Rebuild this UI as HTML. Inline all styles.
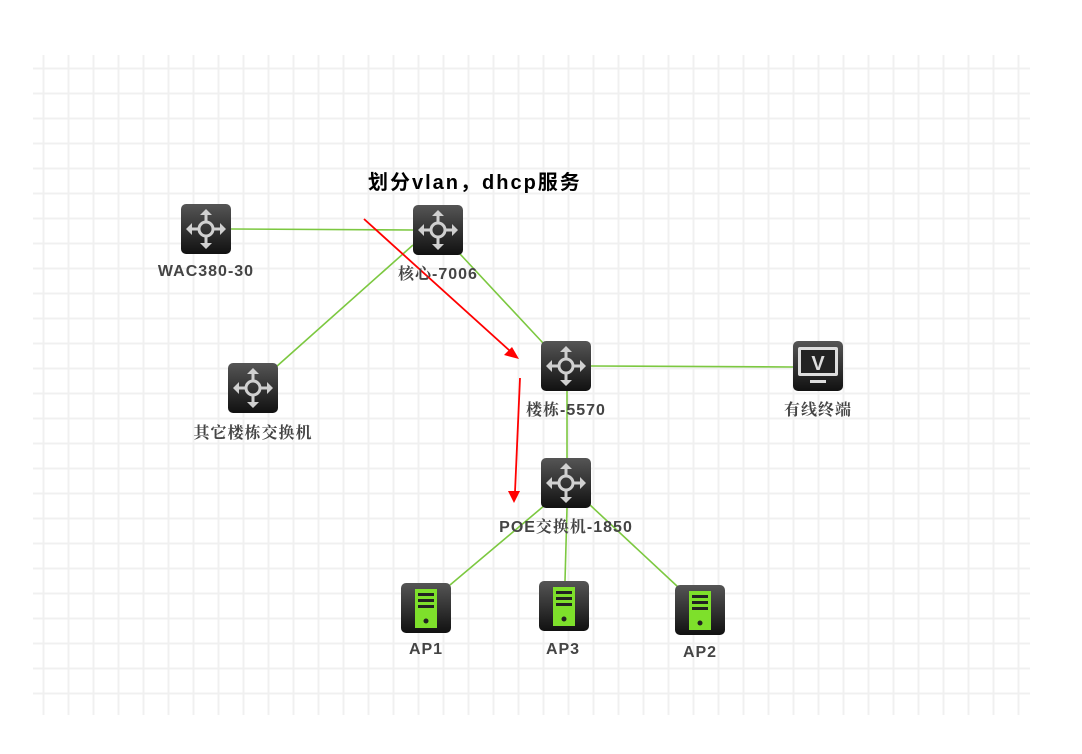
<!DOCTYPE html>
<html><head><meta charset="utf-8"><style>
html,body{margin:0;padding:0;background:#fff;}
svg text{font-family:"Liberation Sans","Noto Serif CJK SC",sans-serif;font-weight:bold;}
</style></head><body>
<svg width="1082" height="749" xmlns="http://www.w3.org/2000/svg">
<defs>
<pattern id="g" x="30.5" y="55.5" width="25" height="25" patternUnits="userSpaceOnUse">
<rect x="12" y="0" width="2" height="25" fill="#f0f0f0"/>
<rect x="0" y="12" width="25" height="2" fill="#f0f0f0"/>
</pattern>
<linearGradient id="dk" x1="0" y1="0" x2="0" y2="1"><stop offset="0" stop-color="#555"/><stop offset="1" stop-color="#111"/></linearGradient>
<g id="sw">
<rect x="0" y="0" width="50" height="50" rx="5" fill="url(#dk)"/>
<g fill="#d0d0d0" stroke="#d0d0d0">
<circle cx="25" cy="25" r="7" fill="none" stroke-width="3"/>
<path d="M25 18V9M25 32V41M18 25H9M32 25H41" stroke-width="3" fill="none"/>
<path d="M25 5l-6 6h12zM25 45l-6-6h12zM5 25l6-6v12zM45 25l-6-6v12z" stroke="none"/>
</g>
</g>
<g id="ap">
<rect x="0" y="0" width="50" height="50" rx="5" fill="url(#dk)"/>
<rect x="14" y="6" width="22" height="39" fill="#7ee02b"/>
<rect x="17" y="10" width="16" height="3" fill="#222"/>
<rect x="17" y="16" width="16" height="3" fill="#222"/>
<rect x="17" y="22" width="16" height="3" fill="#222"/>
<circle cx="25" cy="38" r="2.5" fill="#222"/>
</g>
</defs>
<rect x="33" y="55" width="997" height="660" fill="url(#g)"/>
<g stroke="#7cc840" stroke-width="1.6" fill="none">
<line x1="231" y1="229" x2="413" y2="230"/>
<line x1="413" y1="245" x2="276" y2="367"/>
<line x1="460" y1="254" x2="543" y2="343"/>
<line x1="591" y1="366" x2="793" y2="367"/>
<line x1="567" y1="391" x2="567" y2="458"/>
<line x1="545" y1="505" x2="450" y2="585"/>
<line x1="567" y1="508" x2="565" y2="581"/>
<line x1="590" y1="505" x2="678" y2="587"/>
</g>
<g stroke="#f00" stroke-width="1.8" fill="#f00">
<line x1="364" y1="219" x2="510" y2="351"/>
<path d="M519 359l-15-4 8-8z" stroke="none"/>
<line x1="520" y1="378" x2="515" y2="492"/>
<path d="M514 503l-6-12h12z" stroke="none"/>
</g>
<use href="#sw" x="181" y="204"/>
<use href="#sw" x="413" y="205"/>
<use href="#sw" x="541" y="341"/>
<use href="#sw" x="228" y="363"/>
<use href="#sw" x="541" y="458"/>
<g>
<rect x="793" y="341" width="50" height="50" rx="5" fill="url(#dk)"/>
<rect x="798" y="347" width="40" height="29" rx="2" fill="#ddd"/>
<rect x="801" y="350" width="34" height="23" fill="#222"/>
<text x="818" y="370" text-anchor="middle" fill="#ddd" font-size="20">V</text>
<rect x="810" y="380" width="16" height="3" fill="#ddd"/>
</g>
<use href="#ap" x="401" y="583"/>
<use href="#ap" x="539" y="581"/>
<use href="#ap" x="675" y="585"/>
<g fill="#444" font-size="16" text-anchor="middle" letter-spacing="1">
<text x="206" y="276">WAC380-30</text>
<text x="438" y="279">核心-7006</text>
<text x="253" y="438">其它楼栋交换机</text>
<text x="566" y="415">楼栋-5570</text>
<text x="818" y="415">有线终端</text>
<text x="566" y="532">POE交换机-1850</text>
<text x="426" y="654">AP1</text>
<text x="563" y="654">AP3</text>
<text x="700" y="657">AP2</text>
</g>
<text x="368" y="189" font-size="20" fill="#000" letter-spacing="2" style="font-family:'Liberation Sans','Noto Sans CJK SC',sans-serif">划分vlan，dhcp服务</text>
</svg>
</body></html>
